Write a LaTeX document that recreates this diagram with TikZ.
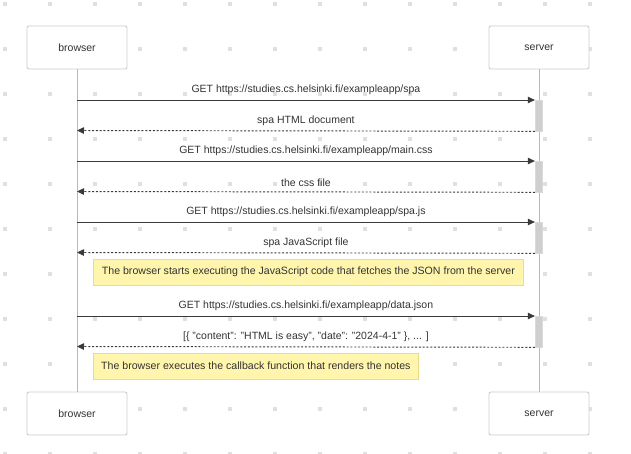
\documentclass[tikz,border=0pt]{standalone}
\usepackage{fontspec}
\setmainfont{Liberation Sans}
\usetikzlibrary{arrows.meta}
\newcommand\mydq{\char34\relax}
\definecolor{txt}{HTML}{333333}
\definecolor{dotc}{HTML}{E0E0E0}
\definecolor{boxline}{HTML}{CCCCCC}
\definecolor{lifec}{HTML}{B8B8B8}
\definecolor{actfill}{HTML}{CFCFCF}
\definecolor{actline}{HTML}{DADADA}
\definecolor{notefill}{HTML}{FFF5AD}
\definecolor{noteline}{HTML}{E8DD8C}
\definecolor{msgc}{HTML}{3A3A3A}
\tikzset{
  actor/.style={draw=boxline, line width=0.9pt, fill=white, rounded corners=2pt,
    minimum width=100pt, minimum height=43pt, inner sep=0pt, text=txt,
    font=\fontsize{10.5}{12}\selectfont},
  actbox/.style={draw=actline, line width=0.8pt, fill=actfill, minimum width=7.5pt,
    minimum height=30.5pt, inner sep=0pt},
  lifeline/.style={draw=lifec, line width=1pt},
  msg/.style={draw=msgc, line width=0.95pt, -{Triangle[length=7pt,width=6.5pt]}},
  reply/.style={msg, dash pattern=on 2pt off 1.8pt},
  lbl/.style={text=txt, font=\fontsize{10.5}{12}\selectfont, inner sep=0pt},
  note/.style={draw=noteline, line width=0.8pt, fill=notefill, anchor=west,
    minimum height=26pt, inner sep=0pt, text=txt, font=\fontsize{10.6}{12}\selectfont},
  gdot/.style={fill=dotc, draw=none}
}
\begin{document}
\begin{tikzpicture}[x=1pt,y=-1pt]
\useasboundingbox (0,0) rectangle (631,453);
% background dot grid
\foreach \i in {0,...,13}{
  \foreach \j in {0,...,10}{
    \fill[gdot] ({5+45*\i-2.2},{4+45*\j-2.2}) rectangle ++(4.4,4.4);
  }
}
% actors
\node[actor] (b1) at (77,47.5) {browser};
\node[actor] (s1) at (539,47.5) {server};
\node[actor] (b2) at (77,413.5) {browser};
\node[actor] (s2) at (539,413.5) {server};
% lifelines
\draw[lifeline] (b1.south) -- (b2.north);
\draw[lifeline] (s1.south) -- (s2.north);
% activations
\node[actbox, anchor=north] (a1) at (539,100) {};
\node[actbox, anchor=north] (a2) at (539,161) {};
\node[actbox, anchor=north] (a3) at (539,222) {};
\node[actbox, anchor=north] (a4) at (539,316) {};
% browser-side points
\coordinate (p1) at (77,100);
\coordinate (p2) at (77,130.5);
\coordinate (p3) at (77,161);
\coordinate (p4) at (77,191.5);
\coordinate (p5) at (77,222);
\coordinate (p6) at (77,252.5);
\coordinate (p7) at (77,316);
\coordinate (p8) at (77,346.5);
% messages
\draw[msg] (p1) -- node[lbl, above=4.5pt] {GET https://studies.cs.helsinki.fi/exampleapp/spa} (a1.north west);
\draw[reply] (a1.south west) -- node[lbl, above=4.5pt] {spa HTML document} (p2);
\draw[msg] (p3) -- node[lbl, above=4.5pt] {GET https://studies.cs.helsinki.fi/exampleapp/main.css} (a2.north west);
\draw[reply] (a2.south west) -- node[lbl, above=4.5pt] {the css file} (p4);
\draw[msg] (p5) -- node[lbl, above=4.5pt] {GET https://studies.cs.helsinki.fi/exampleapp/spa.js} (a3.north west);
\draw[reply] (a3.south west) -- node[lbl, above=4.5pt] {spa JavaScript file} (p6);
\draw[msg] (p7) -- node[lbl, above=4.5pt] {GET https://studies.cs.helsinki.fi/exampleapp/data.json} (a4.north west);
\draw[reply] (a4.south west) -- node[lbl, above=4.5pt] {[\{ \mydq content\mydq: \mydq HTML is easy\mydq, \mydq date\mydq: \mydq 2024-4-1\mydq\ \}, ... ]} (p8);
% notes
\node[note, minimum width=430pt] (n1) at (93,272) {The browser starts executing the JavaScript code that fetches the JSON from the server};
\node[note, minimum width=325pt] (n2) at (93,366) {The browser executes the callback function that renders the notes};
\end{tikzpicture}
\end{document}
